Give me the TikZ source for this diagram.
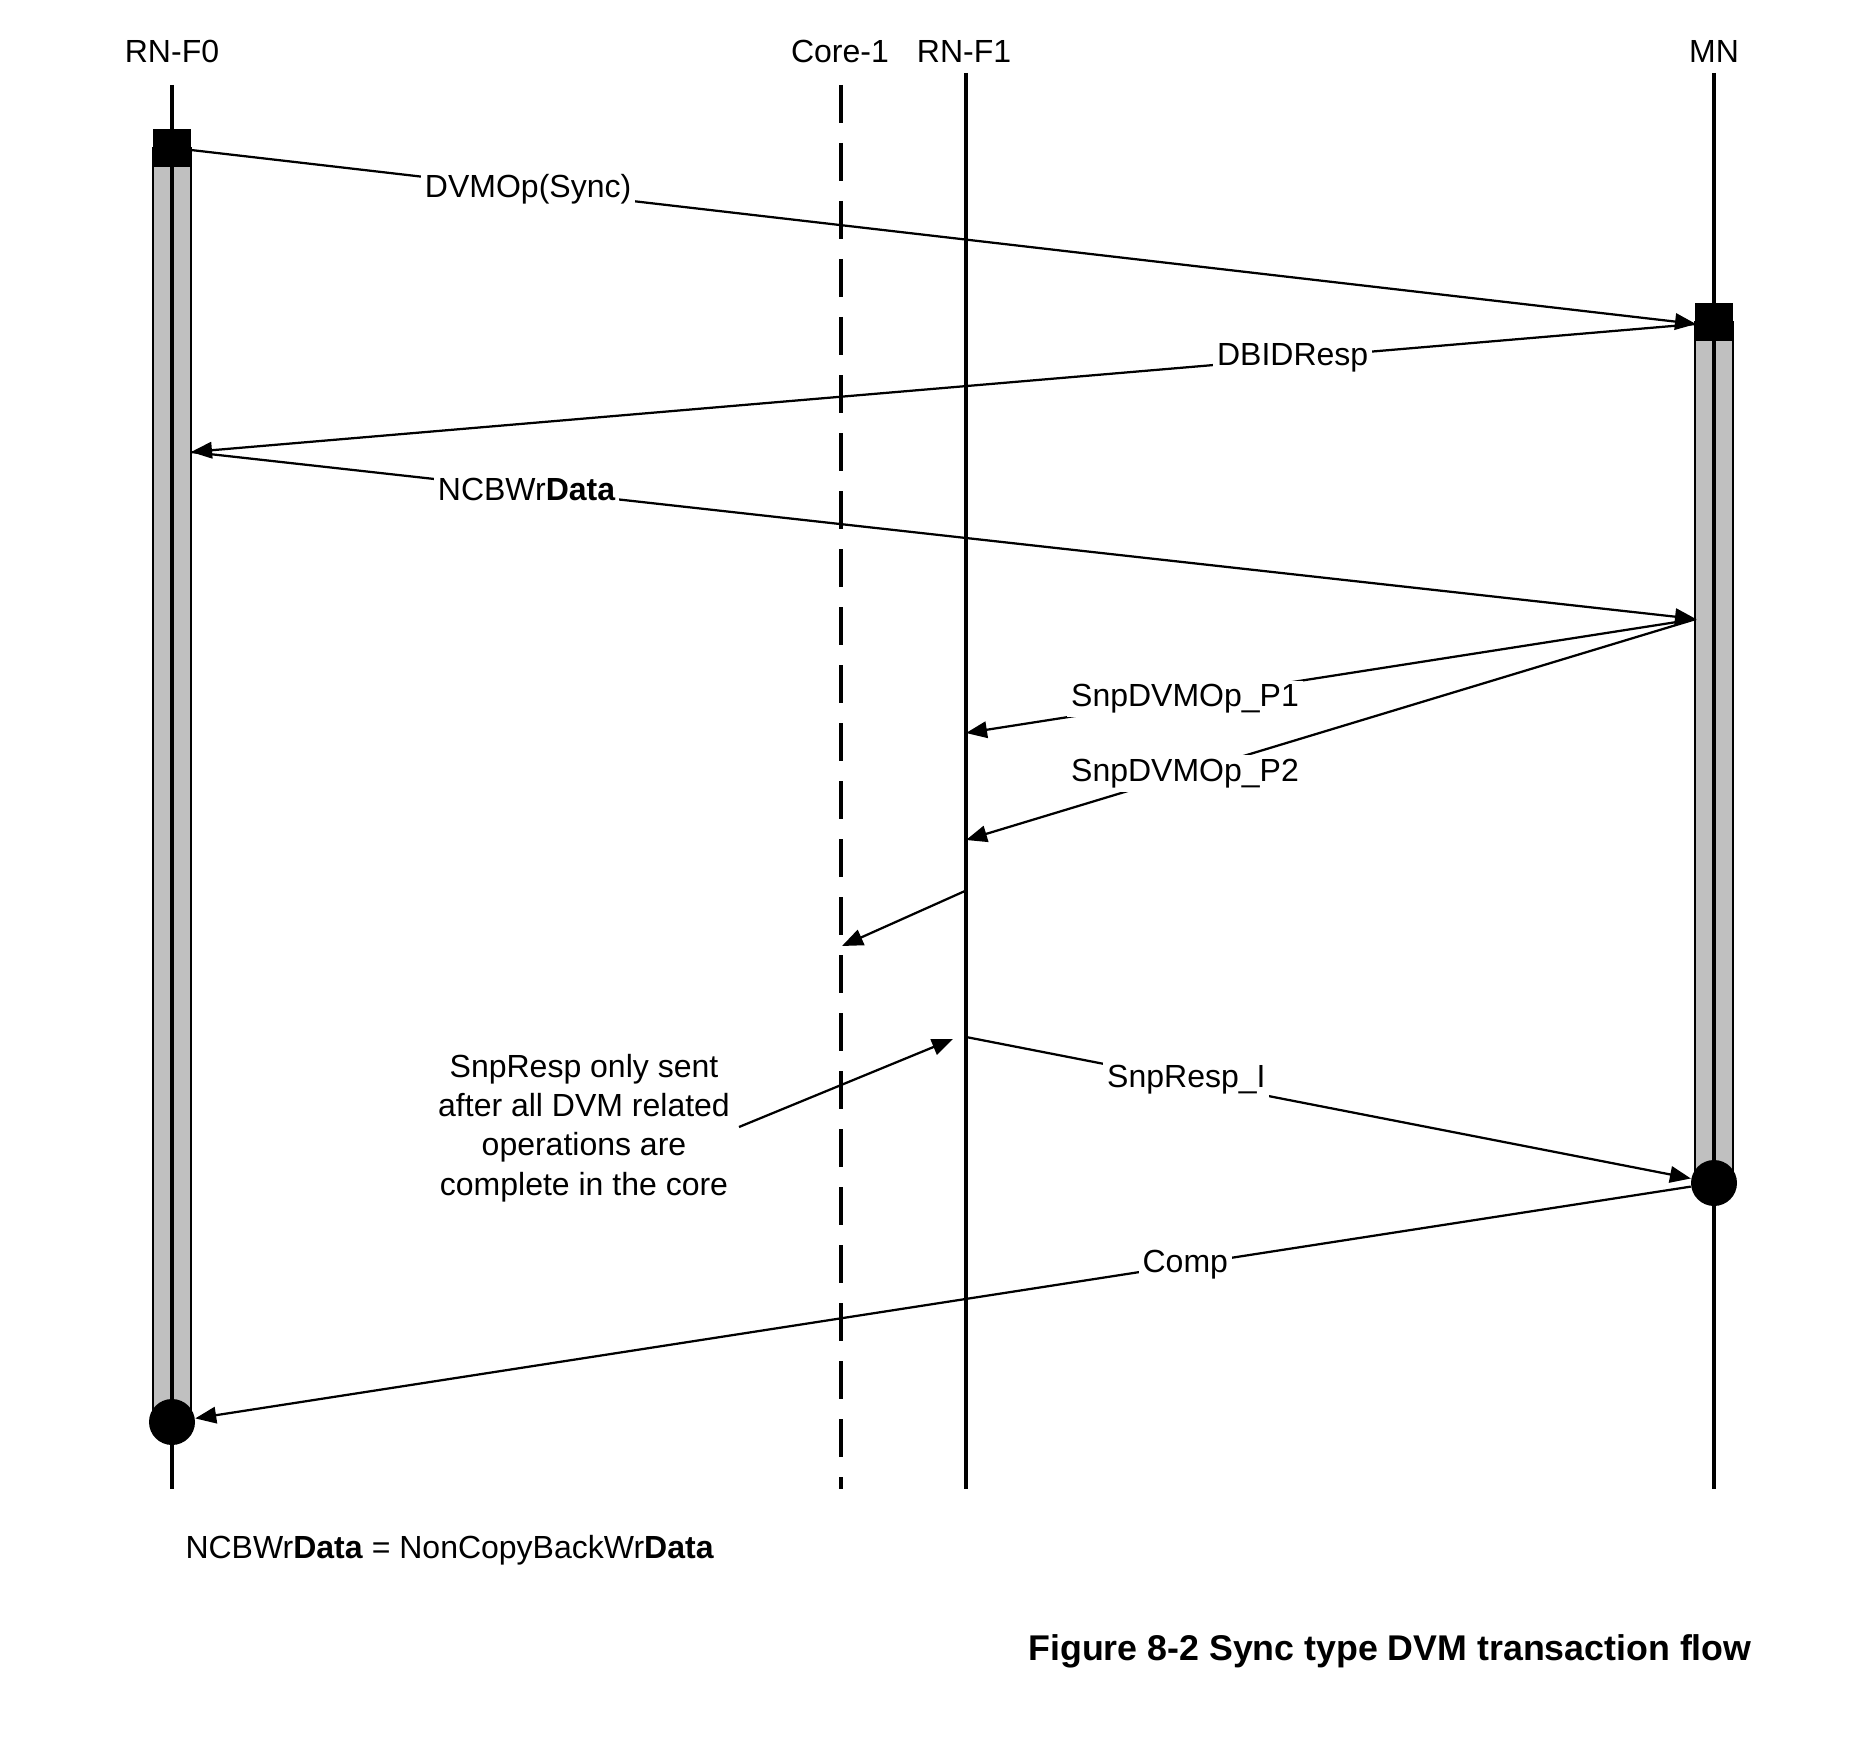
\documentclass[tikz,border=0pt]{standalone}
\usepackage{fontspec}
\setmainfont{Liberation Sans}
\usetikzlibrary{arrows.meta}
\definecolor{bargray}{RGB}{192,192,192}
\begin{document}
\begin{tikzpicture}[x=0.4pt,y=-0.4pt,
  lbl/.style={font=\fontsize{12.8}{15.7}\selectfont, inner sep=0pt},
  life/.style={line width=1.9pt},
  coreline/.style={line width=1.9pt, dash pattern=on 15.2pt off 8pt},
  actbar/.style={draw, line width=0.7pt, fill=bargray},
  msg/.style={line width=0.9pt, -{Triangle[length=8.4pt,width=6.6pt]}},
  msglbl/.style={lbl, fill=white, inner sep=1.5pt},
  startsq/.style={fill=black, minimum size=15.2pt, inner sep=0pt},
  enddot/.style={circle, fill=black, minimum size=18.4pt, inner sep=0pt}
]
\useasboundingbox (0,0) rectangle (1874,1744);

% lifeline heads
\node[lbl, anchor=base] (hF0) at (172,63) {RN-F0};
\node[lbl, anchor=base] (hC1) at (840,63) {Core-1};
\node[lbl, anchor=base] (hF1) at (964,63) {RN-F1};
\node[lbl, anchor=base] (hMN) at (1714,63) {MN};

% lifeline ends
\coordinate (tF0) at (172,85);   \coordinate (bF0) at (172,1489);
\coordinate (tC1) at (841,85);   \coordinate (bC1) at (841,1489);
\coordinate (tF1) at (966,73);   \coordinate (bF1) at (966,1489);
\coordinate (tMN) at (1714,73);  \coordinate (bMN) at (1714,1489);

% activation bars
\draw[actbar] (153,148) rectangle (191,1422);
\draw[actbar] (1695,322) rectangle (1733,1183);

% lifelines
\draw[life] (tF0) -- (bF0);
\draw[coreline] (tC1) -- (bC1);
\draw[life] (tF1) -- (bF1);
\draw[life] (tMN) -- (bMN);

% start squares and end dots
\node[startsq] (sq0) at (172,148) {};
\node[startsq] (sqM) at (1714,322) {};
\node[enddot] (c0) at (172,1422) {};
\node[enddot] (cM) at (1714,1183) {};

% message endpoints
\coordinate (a1s) at (191,150);
\coordinate (a1e) at (1696,324);
\coordinate (a2e) at (191,452);
\coordinate (a3e) at (1696,619);
\coordinate (a4e) at (966,733);
\coordinate (a5e) at (966,840);
\coordinate (a6s) at (965,891);
\coordinate (a6e) at (842,946);
\coordinate (a8s) at (966,1037);

% messages
\draw[msg] (a1s) -- node[msglbl, pos=0.224] {DVMOp(Sync)} (a1e);
\draw[msg] (a1e) -- node[msglbl, pos=0.268] {DBIDResp} (a2e);
\draw[msg] (a2e) -- node[msglbl, pos=0.223] {NCBWr\textbf{Data}} (a3e);
\draw[msg] (a3e) -- node[msglbl, pos=0.70] {SnpDVMOp\_P1} (a4e);
\draw[msg] (a3e) -- node[msglbl, pos=0.70] {SnpDVMOp\_P2} (a5e);
\draw[msg] (a6s) -- (a6e);
\draw[msg] (a8s) -- node[msglbl, pos=0.304] {SnpResp\_I} (cM);
\draw[msg] (cM) -- node[msglbl, pos=0.338] {Comp} (c0);

% note
\node[lbl, align=center] (note) at (584,1128) {SnpResp only sent\\after all DVM related\\operations are\\complete in the core};
\coordinate (n1s) at (739,1127);
\coordinate (n1e) at (953,1039);
\draw[msg] (n1s) -- (n1e);

% footnote and caption
\node[lbl, anchor=base west] (foot) at (185,1558) {NCBWr\textbf{Data} = NonCopyBackWr\textbf{Data}};
\node[lbl, anchor=base east, font=\fontsize{14.3}{17}\selectfont\bfseries] (cap) at (1752,1660) {Figure 8-2 Sync type DVM transaction flow};
\end{tikzpicture}
\end{document}
